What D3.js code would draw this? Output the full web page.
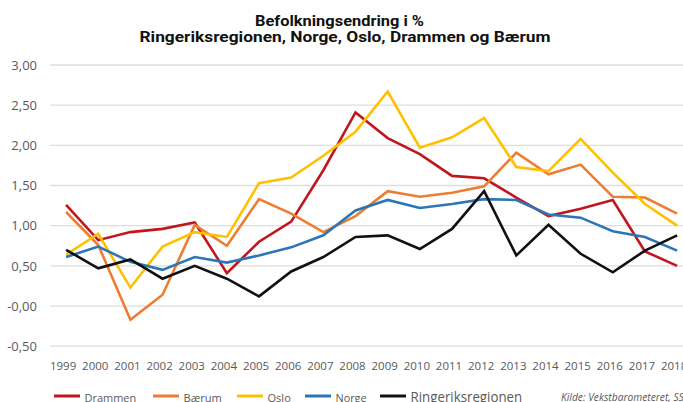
<!DOCTYPE html>
<html><head><meta charset="utf-8">
<script src="https://cdn.jsdelivr.net/npm/d3@7"></script>
<style>html,body{margin:0;padding:0;background:#fff;overflow:hidden}</style>
</head><body>
<svg id="c" width="683" height="402"></svg>
<script>
const years = ["1999","2000","2001","2002","2003","2004","2005","2006","2007","2008","2009","2010","2011","2012","2013","2014","2015","2016","2017","2018"];
const drammen   = [1.26,0.82,0.92,0.96,1.04,0.41,0.80,1.05,1.69,2.41,2.09,1.89,1.62,1.59,1.35,1.12,1.21,1.32,0.68,0.50];
const baerum    = [1.17,0.76,-0.17,0.14,1.01,0.75,1.33,1.15,0.92,1.12,1.43,1.36,1.41,1.49,1.91,1.64,1.76,1.36,1.35,1.15];
const oslo      = [0.64,0.90,0.23,0.74,0.92,0.86,1.53,1.60,1.87,2.17,2.67,1.97,2.10,2.34,1.73,1.68,2.08,1.66,1.27,1.00];
const norge     = [0.61,0.74,0.55,0.45,0.61,0.54,0.63,0.73,0.88,1.19,1.32,1.22,1.27,1.33,1.32,1.14,1.10,0.93,0.86,0.69];
const ringerike = [0.70,0.47,0.58,0.34,0.50,0.34,0.12,0.43,0.61,0.86,0.88,0.71,0.96,1.43,0.63,1.01,0.65,0.42,0.69,0.88];
const seriesNames = ["Drammen","Bærum","Oslo","Norge","Ringeriksregionen"];
const tickValues = [3,2.5,2,1.5,1,0.5,0,-0.5];
const tickLabels = ["3,00","2,50","2,00","1,50","1,00","0,50","-0,00","-0,50"];
const titleLines = ["Befolkningsendring i %","Ringeriksregionen, Norge, Oslo, Drammen og Bærum"];
const sourceText = "Kilde: Vekstbarometeret, SSB";

const colors = ["#C0161D","#ED7D31","#FFC000","#2E75B6","#111111"];
const seriesData = [drammen, baerum, oslo, norge, ringerike];

const svg = d3.select("#c");
const x = d3.scaleBand().domain(years).range([50, 50 + 20*32.16]);
const y = d3.scaleLinear().domain([-0.5, 3]).range([346.2, 65]);

// gridlines
svg.append("g").selectAll("line").data(tickValues).join("line")
  .attr("x1", 50).attr("x2", 700)
  .attr("y1", d => y(d)).attr("y2", d => y(d))
  .attr("stroke", "#dedede").attr("stroke-width", 1.3);

// y axis
const yAxis = d3.axisLeft(y).tickValues(tickValues)
  .tickFormat(d => tickLabels[tickValues.indexOf(d)]).tickSize(0).tickPadding(0);
const yg = svg.append("g").attr("transform","translate(37,0)").call(yAxis);
yg.select(".domain").remove();
yg.selectAll("text").attr("fill","#595959").attr("font-family","'Open Sans', sans-serif").attr("font-size","13px");

// x axis
const xAxis = d3.axisBottom(x).tickSize(0).tickPadding(0);
const xg = svg.append("g").attr("transform","translate(-3,362)").call(xAxis);
xg.select(".domain").remove();
xg.selectAll("text").attr("fill","#595959").attr("font-family","'Open Sans', sans-serif").attr("font-size","11.5px");

// lines
const line = d3.line().x((d,i) => x(years[i]) + x.bandwidth()/2).y(d => y(d));
svg.append("g").selectAll("path").data(seriesData).join("path")
  .attr("d", d => line(d)).attr("fill","none")
  .attr("stroke", (d,i) => colors[i]).attr("stroke-width", 2.6)
  .attr("stroke-linejoin","miter");

// title
const titleX = [339.5, 345];
const titleW = [169, 411];
svg.append("g").selectAll("text").data(titleLines).join("text")
  .attr("x", (d,i) => titleX[i]).attr("y", (d,i) => 26 + i*16.3)
  .attr("text-anchor","middle")
  .attr("font-family","Roboto, 'Liberation Sans', sans-serif").attr("font-weight","bold")
  .attr("font-size","15px").attr("fill","#111")
  .attr("textLength", (d,i) => titleW[i]).attr("lengthAdjust","spacingAndGlyphs")
  .text(d => d);

// legend
const legX = [54, 153, 237, 305, 380];
const legTextW = [51.7, 38.3, 23.3, 31, 111.7];
const lg = svg.append("g");
seriesNames.forEach((n,i) => {
  lg.append("line").attr("x1", legX[i]).attr("x2", legX[i]+26)
    .attr("y1", 396).attr("y2", 396).attr("stroke", colors[i]).attr("stroke-width", 3);
  lg.append("text").attr("x", legX[i]+30.5).attr("y", 401.5)
    .attr("font-family","'Open Sans', sans-serif").attr("font-size", i===4 ? "14px" : "11.5px")
    .attr("fill","#595959").attr("textLength", legTextW[i]).attr("lengthAdjust","spacingAndGlyphs")
    .text(n);
});
svg.append("text").attr("x", 561).attr("y", 400.5)
  .attr("font-family","'Open Sans', sans-serif").attr("font-style","italic")
  .attr("font-size","10px").attr("fill","#595959")
  .attr("textLength", 129).attr("lengthAdjust","spacingAndGlyphs").text(sourceText);
</script>
</body></html>
